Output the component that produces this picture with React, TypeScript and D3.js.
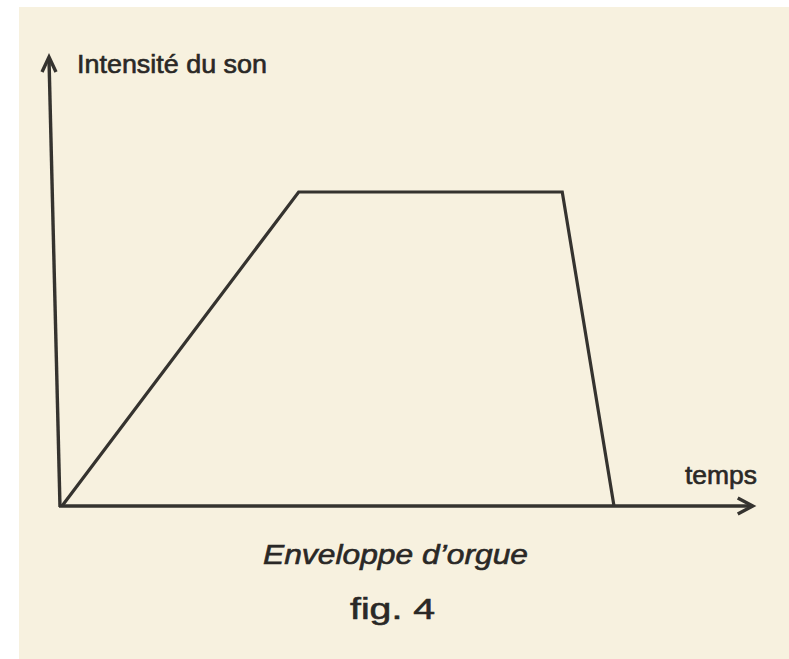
import React from "react";
import { scaleLinear, line } from "d3";

const width = 789;
const height = 659;

// envelope of an organ note: attack, sustain, release (time in %, intensity 0..1)
const times = [0, 34.3, 72.5, 80];
const levels = [0, 1, 1, 0];

const yAxisLabel = "Intensité du son";
const xAxisLabel = "temps";
const caption = "Enveloppe d\u2019orgue";
const figLabel = "fig. 4";

const ink = "#35332f";
const textInk = "#2a2826";
const paper = "#f7f1df";

const xScale = scaleLinear().domain([0, 100]).range([60, 750]);
const yScale = scaleLinear().domain([0, 1]).range([506, 192]);

const axisTop = 1.43; // y axis arrow tip, in intensity units
const axisEnd = 100.4; // x axis arrow tip, in time units
const lean = 11; // the scanned y axis leans a bit to the left at the top

const envelope = line<number>()
  .x((d, i) => xScale(times[i]) + 2)
  .y((d) => yScale(d));

const ArrowHead = ({ x, y, dir }: { x: number; y: number; dir: "up" | "right" }) => {
  const d =
    dir === "right"
      ? `M${x - 15},${y - 8} L${x},${y} L${x - 15},${y + 8}`
      : `M${x - 7},${y + 15} L${x},${y} L${x + 7},${y + 15}`;
  return <path d={d} fill="none" stroke={ink} strokeWidth={3.4} strokeLinejoin="miter" />;
};

// printed labels are a little heavier than Liberation Sans regular
const Label = (props: any) => (
  <text fill={textInk} stroke={textInk} strokeWidth={0.6} lengthAdjust="spacingAndGlyphs" {...props} />
);

export default function App() {
  const x0 = xScale(0);
  const y0 = yScale(0);
  const yTop = yScale(axisTop);
  const xEnd = xScale(axisEnd);

  return (
    <svg
      width={width}
      height={height}
      style={{ position: "absolute", left: 0, top: 0, background: "#fff" }}
      fontFamily="'Liberation Sans', Arial, sans-serif"
    >
      <rect x={19} y={7} width={width - 19} height={height - 7} fill={paper} />

      {/* axes */}
      <line x1={x0 - 1} y1={y0} x2={xEnd - 2} y2={y0} stroke={ink} strokeWidth={3.4} />
      <ArrowHead x={xEnd} y={y0} dir="right" />
      <line x1={x0} y1={y0 + 1} x2={x0 - lean} y2={yTop + 2} stroke={ink} strokeWidth={3.4} />
      <ArrowHead x={x0 - lean} y={yTop} dir="up" />

      <path d={envelope(levels) ?? ""} fill="none" stroke={ink} strokeWidth={3.2} strokeLinejoin="miter" />

      <Label x={77} y={73} fontSize={25} textLength={190}>
        {yAxisLabel}
      </Label>
      <Label x={685} y={484} fontSize={25} textLength={72}>
        {xAxisLabel}
      </Label>
      <Label x={263} y={564} fontSize={28} fontStyle="italic" textLength={265}>
        {caption}
      </Label>
      <Label x={350} y={619} fontSize={30} textLength={85}>
        {figLabel}
      </Label>
    </svg>
  );
}
